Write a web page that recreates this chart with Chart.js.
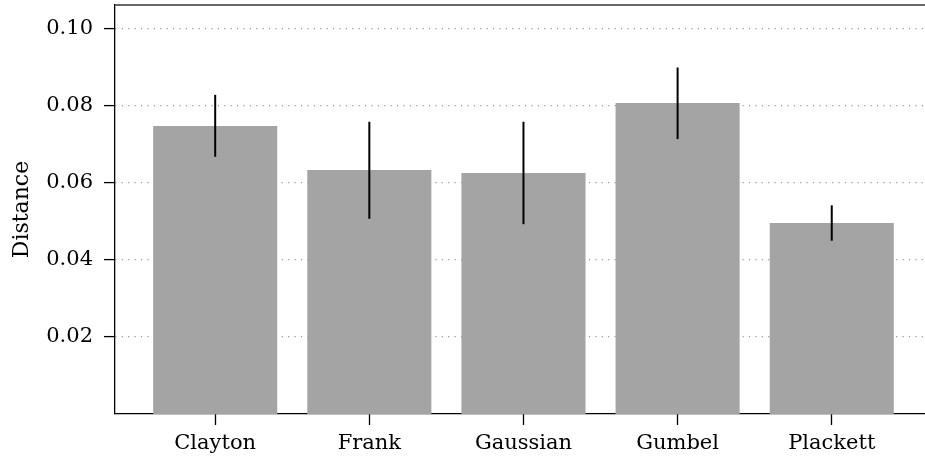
<!DOCTYPE html>
<html>
<head>
<meta charset="utf-8">
<script src="https://cdn.jsdelivr.net/npm/chart.js@4.4.0/dist/chart.umd.min.js"></script>
<style>
  html, body { margin: 0; padding: 0; background: #ffffff; }
  #contenedor { width: 925px; height: 462px; }
</style>
</head>
<body>
<div id="contenedor"><canvas id="barChartDistancia" width="925" height="462"></canvas></div>
<script>
// Datos
var categorias = ["Clayton", "Frank", "Gaussian", "Gumbel", "Plackett"];
var distancias = [0.0748, 0.0634, 0.0626, 0.0808, 0.0496];
var errorInferior = [0.0668, 0.0507, 0.0493, 0.0714, 0.0450];
var errorSuperior = [0.0829, 0.0759, 0.0759, 0.0900, 0.0542];
var ticksY = [0.02, 0.04, 0.06, 0.08, 0.10];

var fuente = "'DejaVu Serif', 'Liberation Serif', serif";

// Plugin para las barras de error
var pluginErrores = {
  id: "barrasError",
  afterDraw: function (chart) {
    var ctx = chart.ctx;
    var meta = chart.getDatasetMeta(0);
    var escalaY = chart.scales.y;
    ctx.save();
    ctx.strokeStyle = "#000000";
    ctx.lineWidth = 2;
    meta.data.forEach(function (barra, i) {
      ctx.beginPath();
      ctx.moveTo(barra.x, escalaY.getPixelForValue(errorInferior[i]));
      ctx.lineTo(barra.x, escalaY.getPixelForValue(errorSuperior[i]));
      ctx.stroke();
    });
    ctx.restore();
  }
};

// Linea superior del marco
var pluginMarco = {
  id: "marcoSuperior",
  afterDraw: function (chart) {
    var area = chart.chartArea;
    var ctx = chart.ctx;
    ctx.save();
    ctx.strokeStyle = "#333333";
    ctx.lineWidth = 1.5;
    ctx.beginPath();
    ctx.moveTo(area.left, area.top);
    ctx.lineTo(area.right, area.top);
    ctx.stroke();
    ctx.restore();
  }
};

function GraficoBarrasDistancia() {
  var canvas = document.getElementById("barChartDistancia");
  var ctx = canvas.getContext("2d");

  var puntos = categorias.map(function (c, i) {
    return { x: i, y: distancias[i] };
  });

  var config = {
    type: "bar",
    data: {
      datasets: [
        {
          label: "Distance",
          data: puntos,
          backgroundColor: "#a4a4a4",
          borderWidth: 0,
          categoryPercentage: 1,
          barPercentage: 0.805
        }
      ]
    },
    options: {
      responsive: false,
      animation: false,
      layout: { padding: { top: 5, right: 0, bottom: 0, left: 0 } },
      plugins: {
        legend: { display: false },
        tooltip: { enabled: false }
      },
      scales: {
        x: {
          type: "linear",
          offset: false,
          min: -0.65,
          max: 4.605,
          afterBuildTicks: function (axis) {
            axis.ticks = categorias.map(function (c, i) { return { value: i }; });
          },
          afterFit: function (axis) {
            axis.height = 48;
            axis.paddingLeft = 0;
            axis.paddingRight = 0;
          },
          ticks: {
            autoSkip: false,
            maxRotation: 0,
            padding: 6,
            color: "#000000",
            font: { family: fuente, size: 21 },
            callback: function (value) { return categorias[value]; }
          },
          grid: {
            offset: false,
            drawOnChartArea: false,
            drawTicks: true,
            tickLength: 11,
            tickColor: "#000000",
            tickWidth: 1.3
          },
          border: { display: true, color: "#000000", width: 1.3 }
        },
        y: {
          min: 0,
          max: 0.10623,
          z: 1,
          afterBuildTicks: function (axis) {
            axis.ticks = ticksY.map(function (v) { return { value: v }; });
          },
          afterFit: function (axis) {
            axis.width = 115;
            axis.paddingTop = 0;
            axis.paddingBottom = 0;
          },
          title: {
            display: true,
            text: "Distance",
            color: "#000000",
            font: { family: fuente, size: 22 },
            padding: { top: 9, bottom: 0 }
          },
          ticks: {
            padding: 11,
            color: "#000000",
            font: { family: fuente, size: 21 },
            callback: function (value) { return value.toFixed(2); }
          },
          grid: {
            color: "#989898",
            lineWidth: 1.2,
            drawTicks: true,
            tickLength: 11,
            tickColor: "#000000",
            tickWidth: 1.3
          },
          border: { display: true, color: "#000000", width: 1.3, dash: [1.2, 5.2] }
        }
      }
    },
    plugins: [pluginErrores, pluginMarco]
  };

  var grafico = new Chart(ctx, config);
}

GraficoBarrasDistancia();
</script>
</body>
</html>
